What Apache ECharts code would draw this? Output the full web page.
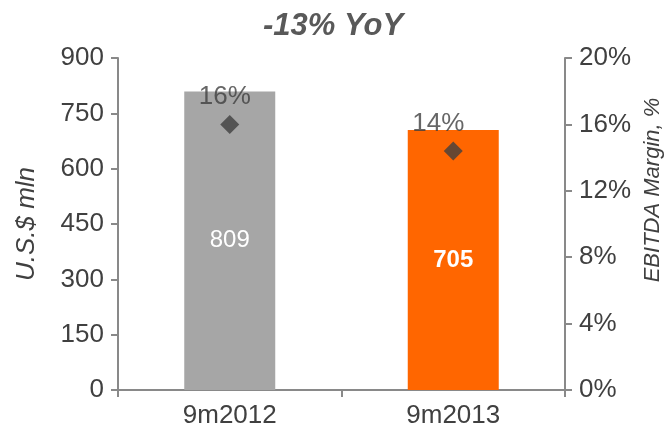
<!DOCTYPE html>
<html>
<head>
<meta charset="utf-8">
<script src="https://cdn.jsdelivr.net/npm/echarts@6/dist/echarts.min.js"></script>
<style>
  html, body { margin: 0; padding: 0; background: #fff; }
  #chart { width: 666px; height: 431px; }
</style>
</head>
<body>
<div id="chart"></div>
<script>
// data
const periods = ['9m2012', '9m2013'];
const ebitda = [809, 705];          // U.S.$ mln
const margin = [16.0, 14.4];        // EBITDA margin, %
const barColors = ['#a6a6a6', '#ff6600'];
const leftTicks = [0, 150, 300, 450, 600, 750, 900];
const rightTicks = [0, 4, 8, 12, 16, 20];

// margin labels sit a bit left of the diamonds in the original
const labelOffsets = [[-5, 0], [-15, 0]];

const font = 'Liberation Sans, Arial, sans-serif';
const axisGrey = '#898989';
const textGrey = '#404040';

let myChart = echarts.init(document.getElementById('chart'));

let option = {
  animation: false,
  title: {
    text: '-13% YoY',
    left: 'center',
    top: 6,
    textStyle: { fontFamily: font, fontSize: 31, fontWeight: 'bold', fontStyle: 'italic', color: '#595959' }
  },
  grid: { left: 118, right: 101, top: 58, bottom: 41, outerBoundsMode: 'none' },
  xAxis: {
    type: 'category',
    data: periods,
    axisLine: { lineStyle: { color: axisGrey, width: 2 } },
    axisTick: { show: true, length: 7, lineStyle: { color: axisGrey, width: 2 } },
    axisLabel: { fontFamily: font, fontSize: 26, color: textGrey, margin: 13 }
  },
  yAxis: [
    {
      type: 'value',
      min: leftTicks[0],
      max: leftTicks[leftTicks.length - 1],
      interval: 150,
      name: 'U.S.$ mln',
      nameLocation: 'middle',
      nameRotate: 90,
      nameGap: 78,
      nameTextStyle: { fontFamily: font, fontSize: 26, fontStyle: 'italic', color: textGrey },
      axisLine: { show: true, lineStyle: { color: axisGrey, width: 2 } },
      axisTick: { show: true, length: 7, lineStyle: { color: axisGrey, width: 2 } },
      axisLabel: { fontFamily: font, fontSize: 26, color: textGrey, margin: 14 },
      splitLine: { show: false }
    },
    {
      type: 'value',
      position: 'right',
      min: rightTicks[0],
      max: rightTicks[rightTicks.length - 1],
      interval: 4,
      name: 'EBITDA Margin, %',
      nameLocation: 'middle',
      nameRotate: 90,
      nameGap: 77,
      nameTextStyle: { fontFamily: font, fontSize: 22, fontStyle: 'italic', color: textGrey, padding: [0, 0, 0, 68] },
      axisLine: { show: true, lineStyle: { color: axisGrey, width: 2 } },
      axisTick: { show: true, length: 7, lineStyle: { color: axisGrey, width: 2 } },
      axisLabel: { fontFamily: font, fontSize: 26, color: textGrey, margin: 14, formatter: '{value}%' },
      splitLine: { show: false }
    }
  ],
  series: [
    {
      name: 'EBITDA',
      type: 'bar',
      barWidth: 91,
      data: ebitda.map((v, i) => ({
        value: v,
        itemStyle: { color: barColors[i] },
        label: { fontWeight: i === 1 ? 'bold' : 'normal' }
      })),
      label: {
        show: true,
        position: 'inside',
        fontFamily: font,
        fontSize: 24,
        color: '#fff'
      }
    },
    {
      name: 'Margin',
      type: 'scatter',
      yAxisIndex: 1,
      symbol: 'diamond',
      symbolSize: [19, 19],
      itemStyle: { color: '#404040' },
      data: margin.map((v, i) => ({ value: v, label: { offset: labelOffsets[i] } })),
      label: {
        show: true,
        position: 'top',
        distance: 5,
        fontFamily: font,
        fontSize: 26,
        color: textGrey,
        formatter: p => Math.round(p.value) + '%'
      }
    }
  ]
};

myChart.setOption(option);
</script>
</body>
</html>
